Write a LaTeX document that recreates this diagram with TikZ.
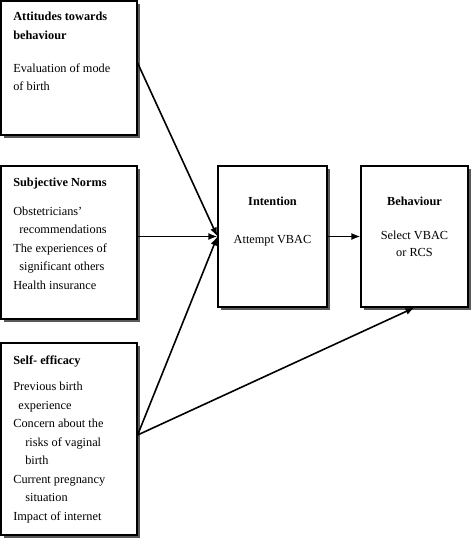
\documentclass[tikz,border=0pt]{standalone}
\usepackage{fontspec}
\setmainfont{Liberation Serif}
\usetikzlibrary{arrows.meta}
\begin{document}
\begin{tikzpicture}
	[x=1pt, y=-1pt, line width=1.2pt,
	box/.style={draw, fill=white, inner sep=0pt,
		preaction={draw=none, fill=black!65, transform canvas={xshift=3pt, yshift=-3pt}}},
	head/.style={anchor=base west, inner sep=0pt, align=left, font=\fontsize{12.3}{18.7}\selectfont\bfseries},
	body/.style={anchor=base west, inner sep=0pt, align=left, font=\fontsize{12.3}{18.5}\selectfont},
	arr/.style={-{Latex[length=9pt,width=7pt]}, line width=1.6pt}]
	\useasboundingbox (0,0) rectangle (473,540);
	% determinants
	\node[box, minimum width=136pt, minimum height=134pt] (att) at (69,68) {};
	\node[box, minimum width=136pt, minimum height=153pt] (sn) at (69,242.5) {};
	\node[box, minimum width=136pt, minimum height=192pt] (se) at (69,439) {};
	% intention and behaviour
	\node[box, minimum width=109pt, minimum height=141pt] (int) at (272.5,236.5) {};
	\node[box, minimum width=107pt, minimum height=141pt] (beh) at (414.5,236.5) {};
	% texts, placed at the baseline of their last line
	\node[head] (atth) at (12.7,39.3) {Attitudes towards\\behaviour};
	\node[body] (attb) at (12.7,90.7) {Evaluation of mode\\of birth};
	\node[head] (snh) at (12.7,186) {Subjective Norms};
	\node[body] (snb) at (12.7,289) {Obstetricians'\\\hspace*{6pt}recommendations\\The experiences of\\\hspace*{6pt}significant others\\Health insurance};
	\node[head] (seh) at (12.7,364) {Self- efficacy};
	\node[body] (seb) at (12.7,520) {Previous birth\\\hspace*{5pt}experience\\Concern about the\\\hspace*{12pt}risks of vaginal\\\hspace*{12pt}birth\\Current pregnancy\\\hspace*{12pt}situation\\Impact of internet};
	\node[head, anchor=base] (inth) at (272.5,205.7) {Intention};
	\node[body, anchor=base] (intb) at (272.5,243.3) {Attempt VBAC};
	\node[head, anchor=base] (behh) at (414.5,205.7) {Behaviour};
	\node[body, anchor=base, align=center, font=\fontsize{12.3}{17.4}\selectfont] (behb) at (414.5,256.7) {Select VBAC\\or RCS};
	% paths
	\draw[arr] ([yshift=5pt]att.east) -- (int.west);
	\draw[arr] (sn.east |- int.west) -- (int.west);
	\draw[arr] ([yshift=4pt]se.east) -- (int.west);
	\draw[arr] ([yshift=4pt]se.east) -- (beh.south);
	\draw[arr] (int.east) -- (beh.west);
\end{tikzpicture}
\end{document}
